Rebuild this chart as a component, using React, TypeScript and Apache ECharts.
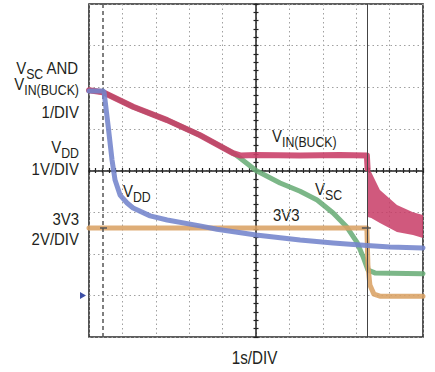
import React, { useEffect, useRef } from "react";
import * as echarts from "echarts";

const FONT = "'Liberation Sans', Arial, sans-serif";
const INK = "#231f20";
const SX = 0.88;

const RED = "#c83c66";
const GREEN = "#6aad78";
const BLUE = "#7384cc";
const ORANGE = "#d9a264";

// time in divisions (1 s/DIV) relative to screen centre, voltage in divisions relative to centre line
const vinBuckT = [-5.0, -4.58, -3.68, -2.66, -1.68, -0.69, -0.45, 0, 1.32, 2.51, 3.32, 3.34];
const vinBuckV = [1.93, 1.88, 1.53, 1.21, 0.85, 0.42, 0.36, 0.37, 0.36, 0.37, 0.36, 0.05];
const vinTailT = [3.35, 3.45, 3.71, 4.22, 4.7, 5.0];
const vinTailLow = [-1.12, -1.14, -1.26, -1.48, -1.55, -1.62];
const vinTailHigh = [0.1, -0.04, -0.47, -0.83, -1.0, -1.07];
const vscT = [-5.0, -4.58, -3.68, -2.66, -1.68, -0.69, -0.48, 0, 0.72, 1.32, 1.83, 2.31, 2.72, 3.02, 3.2, 3.35, 3.56, 5.0];
const vscV = [1.93, 1.88, 1.53, 1.21, 0.85, 0.42, 0.3, 0.0, -0.3, -0.5, -0.71, -1.02, -1.36, -1.72, -2.06, -2.39, -2.46, -2.48];
const vddT = [-5.0, -4.58, -4.55, -4.43, -4.31, -4.22, -4.07, -3.86, -3.68, -3.17, -2.66, -1.68, -1.17, 0, 1.32, 2.31, 3.32, 4.01, 5.0];
const vddV = [1.91, 1.91, 1.89, 1.09, 0.25, -0.23, -0.59, -0.78, -0.9, -1.09, -1.19, -1.33, -1.41, -1.55, -1.67, -1.74, -1.8, -1.84, -1.86];
const v3v3T = [-5.0, 3.32, 3.35, 3.41, 3.53, 3.71, 5.0];
const v3v3V = [-1.38, -1.38, -2.27, -2.75, -2.97, -3.02, -3.02];
const cursorT = [-4.58, 3.32];
const levelMarkT = [[-4.67, -4.46], [3.17, 3.44]];
const levelMarkV = -1.38;
const groundMarkV = -3.0;

const zip = (a: number[], b: number[]) => a.map((x, i) => [x, b[i]]);

const trace = (name: string, t: number[], v: number[], color: string, width: number, z: number, extra: any = {}) => ({
  name,
  type: "line",
  data: zip(t, v),
  symbol: "none",
  showSymbol: false,
  silent: true,
  z,
  lineStyle: { color, width, opacity: 0.88, cap: "round", join: "round" },
  ...extra,
});

let measureCtx: CanvasRenderingContext2D | null = null;
const measure = (text: string, size: number) => {
  if (!measureCtx) measureCtx = document.createElement("canvas").getContext("2d");
  measureCtx!.font = `${size}px ${FONT}`;
  return measureCtx!.measureText(text).width;
};

type Part = { t: string; size: number; dy: number };
const MAIN = 17;
const SUB = 14;
const SUBDROP = 5;

// build a label out of pieces (main text + subscripts), positioned by its anchor and main baseline
const label = (parts: Part[], x: number, baseline: number, align: "left" | "right" | "center", sx = SX) => {
  const widths = parts.map((p) => measure(p.t, p.size) * sx);
  const total = widths.reduce((a, b) => a + b, 0);
  let cur = align === "right" ? x - total : align === "center" ? x - total / 2 : x;
  return parts.map((p, i) => {
    const el = {
      type: "text",
      x: cur,
      y: baseline + p.dy - 0.3465 * p.size,
      scaleX: sx,
      scaleY: 1,
      originX: 0,
      originY: 0,
      silent: true,
      style: {
        x: 0,
        y: 0,
        text: p.t,
        fill: INK,
        font: `${p.size}px ${FONT}`,
        align: "left",
        textAlign: "left",
        verticalAlign: "middle",
        textVerticalAlign: "middle",
      },
    };
    cur += widths[i];
    return el;
  });
};
const M = (t: string): Part => ({ t, size: MAIN, dy: 0 });
const S = (t: string): Part => ({ t, size: SUB, dy: SUBDROP });

const centreAxis = (position: string, interval: number, min: number, max: number, showLine: boolean) => ({
  type: "value",
  min,
  max,
  interval,
  position,
  axisLine: { show: showLine, onZero: true, lineStyle: { color: "#222", width: 1.5 } },
  axisTick: { show: true, inside: false, length: 2.5, lineStyle: { color: "#222", width: 1.2 } },
  axisLabel: { show: false },
  splitLine: { show: false },
});

const buildOption = (): any => ({
  animation: false,
  backgroundColor: "#ffffff",
  grid: {
    left: 89,
    top: 4,
    width: 334,
    height: 333,
    show: true,
    borderColor: "#2a2a2a",
    borderWidth: 1.6,
    backgroundColor: "transparent",
  },
  xAxis: [
    {
      type: "value",
      min: -5,
      max: 5,
      interval: 1,
      position: "bottom",
      axisLine: { show: false, onZero: false },
      axisTick: { show: false },
      axisLabel: { show: false },
      splitLine: { show: true, lineStyle: { color: "#a0a0a0", type: [1.5, 3], width: 1 } },
    },
    centreAxis("bottom", 0.2, -5, 5, true),
    centreAxis("top", 0.2, -5, 5, false),
  ],
  yAxis: [
    {
      type: "value",
      min: -4,
      max: 4,
      interval: 1,
      position: "left",
      axisLine: { show: false, onZero: false },
      axisTick: { show: false },
      axisLabel: { show: false },
      splitLine: { show: true, lineStyle: { color: "#a0a0a0", type: [1.5, 3], width: 1 } },
    },
    centreAxis("left", 0.2, -4, 4, true),
    centreAxis("right", 0.2, -4, 4, false),
  ],
  series: [
    trace("VSC", vscT, vscV, GREEN, 5, 2),
    trace("3V3", v3v3T, v3v3V, ORANGE, 5, 3, {
      markLine: {
        silent: true,
        symbol: ["none", "none"],
        label: { show: false },
        data: [
          { xAxis: cursorT[0], lineStyle: { type: [4, 3], color: "#555", width: 1.5 } },
          { xAxis: cursorT[1], lineStyle: { type: "solid", color: "#444", width: 1 } },
          ...levelMarkT.map((seg) => [
            { coord: [seg[0], levelMarkV], lineStyle: { type: "solid", color: "#555", width: 1.5 } },
            { coord: [seg[1], levelMarkV] },
          ]),
        ],
      },
      markPoint: {
        silent: true,
        symbol: "triangle",
        symbolSize: [7, 6],
        symbolRotate: -90,
        symbolOffset: [-6, 0],
        itemStyle: { color: "#3d4fa6" },
        label: { show: false },
        data: [{ coord: [-5, groundMarkV] }],
      },
    }),
    trace("VIN(BUCK)", vinBuckT, vinBuckV, RED, 6, 4),
    {
      name: "VIN(BUCK) tail",
      type: "custom",
      silent: true,
      clip: true,
      z: 4,
      data: [[vinTailT[0], vinTailLow[0]]],
      renderItem: (_params: any, api: any) => {
        const upper = vinTailT.map((t, i) => api.coord([t, vinTailHigh[i]]));
        const lower = vinTailT.map((t, i) => api.coord([t, vinTailLow[i]])).reverse();
        return {
          type: "polygon",
          shape: { points: upper.concat(lower) },
          style: { fill: RED, opacity: 0.85 },
        };
      },
    },
    trace("VDD", vddT, vddV, BLUE, 5, 5),
  ],
  graphic: [
    ...label([M("V"), S("SC"), M(" AND")], 79, 74, "right"),
    ...label([M("V"), S("IN(BUCK)")], 79, 90, "right"),
    ...label([M("1/DIV")], 79, 118, "right"),
    ...label([M("V"), S("DD")], 79, 153, "right"),
    ...label([M("1V/DIV")], 79, 175, "right"),
    ...label([M("3V3")], 79, 225, "right"),
    ...label([M("2V/DIV")], 79, 245, "right"),
    ...label([M("V"), S("IN(BUCK)")], 272, 142, "left"),
    ...label([M("V"), S("DD")], 123, 197, "left"),
    ...label([M("V"), S("SC")], 315, 195, "left"),
    ...label([M("3V3")], 273, 221, "left"),
    ...label([{ t: "1s/DIV", size: 19, dy: 0 }], 254.5, 364, "center", 0.8),
  ],
});

export default function App() {
  const ref = useRef<HTMLDivElement>(null);
  useEffect(() => {
    const chart = echarts.init(ref.current!, null, { renderer: "svg" });
    chart.setOption(buildOption());
    return () => chart.dispose();
  }, []);
  return (
    <div
      ref={ref}
      style={{ position: "fixed", left: 0, top: 0, width: 435, height: 372, background: "#fff" }}
    />
  );
}
